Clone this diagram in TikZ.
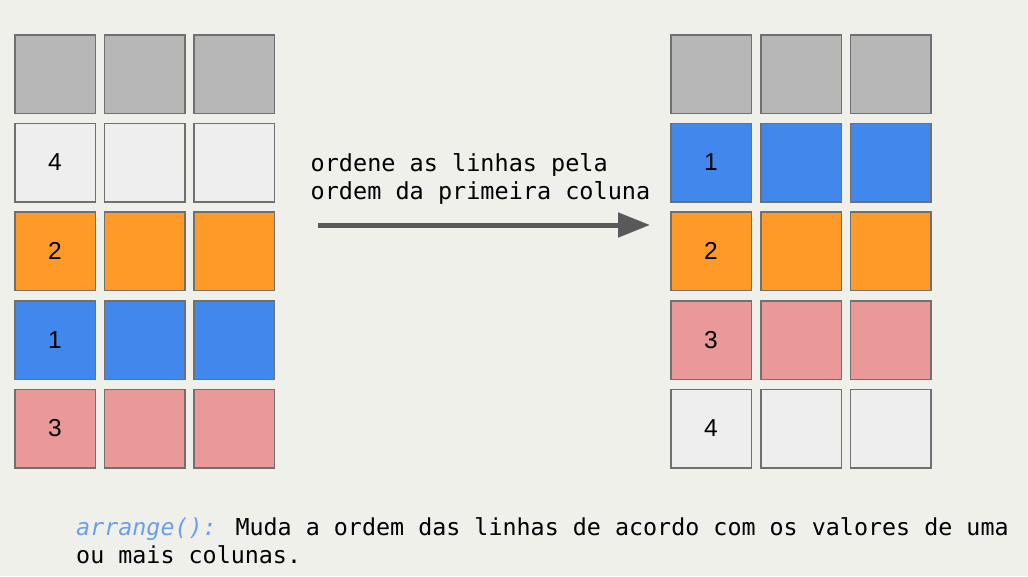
\documentclass[tikz,border=0pt]{standalone}
\usepackage{fontspec}
\setmainfont{Liberation Sans}
\newfontfamily\codefont{DejaVu Sans Mono}
\usetikzlibrary{arrows.meta}
\definecolor{bg}{HTML}{F0F0EB}
\definecolor{cellborder}{HTML}{707070}
\definecolor{cgray}{HTML}{B7B7B7}
\definecolor{clight}{HTML}{EEEEEE}
\definecolor{corange}{HTML}{FF9A28}
\definecolor{cblue}{HTML}{4287EC}
\definecolor{cpink}{HTML}{EA9999}
\definecolor{arrowgray}{HTML}{595959}
\definecolor{codeblue}{HTML}{6D9EEB}
\begin{document}
\begin{tikzpicture}[x=1pt,y=-1pt,
  cell/.style={draw=cellborder,line width=1.5pt,minimum width=80.5pt,minimum height=78.5pt,inner sep=0pt,font=\fontsize{24.5}{24.5}\selectfont},
  codetext/.style={anchor=base west,inner sep=0pt,font=\codefont\fontsize{23.5}{28}\selectfont},
  captext/.style={anchor=base west,inner sep=0pt,font=\codefont\fontsize{23.35}{28}\selectfont}]
\fill[bg] (0,0) rectangle (1028,576);
\useasboundingbox (0,0) rectangle (1028,576);
% left table
\foreach \r/\y/\c/\t in {1/74/cgray/,2/162.5/clight/4,3/251/corange/2,4/340/cblue/1,5/428.5/cpink/3}{
  \node[cell,fill=\c] (L-\r-1) at (55,\y) {\t};
  \node[cell,fill=\c] (L-\r-2) at (144.5,\y) {};
  \node[cell,fill=\c] (L-\r-3) at (234,\y) {};
}
% right table
\foreach \r/\y/\c/\t in {1/74/cgray/,2/162.5/cblue/1,3/251/corange/2,4/340/cpink/3,5/428.5/clight/4}{
  \node[cell,fill=\c] (R-\r-1) at (711,\y) {\t};
  \node[cell,fill=\c] (R-\r-2) at (801,\y) {};
  \node[cell,fill=\c] (R-\r-3) at (890.5,\y) {};
}
% arrow
\coordinate (a1) at (318,225);
\coordinate (a2) at (650,225);
\draw[arrowgray,line width=5pt,-{Triangle[length=32pt,width=24pt]}] (a1) -- (a2);
\node[codetext] (t1) at (310.5,171.5) {ordene as linhas pela};
\node[codetext] (t2) at (310.5,199.5) {ordem da primeira coluna};
% caption
\node[captext] (c1) at (76,535) {{\color{codeblue}\itshape arrange():} Muda a ordem das linhas de acordo com os valores de uma};
\node[captext] (c2) at (76,563) {ou mais colunas.};
\end{tikzpicture}
\end{document}
